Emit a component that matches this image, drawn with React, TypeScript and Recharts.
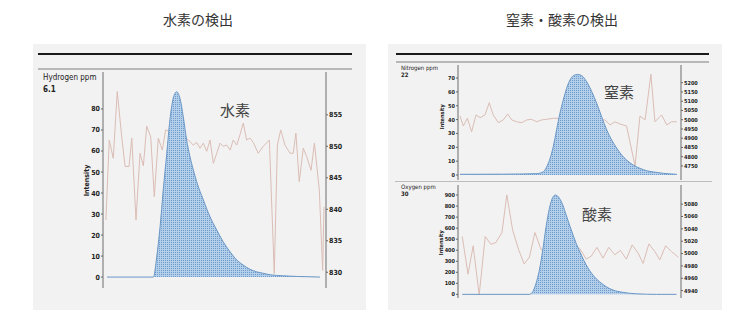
import React from "react"
import { Area, ComposedChart, Line, XAxis, YAxis } from "recharts"

const narrow = "'Liberation Sans Narrow', 'DejaVu Sans Condensed', Arial, sans-serif"
const cjk = "'Noto Sans CJK JP', 'Noto Sans CJK SC', sans-serif"

// time axis is arbitrary (0..100 across the plot)

// hydrogen peak (intensity)
const h2PeakT = [1.8, 22.6, 24.1, 25.6, 27.0, 28.6, 30.0, 31.5, 33.0, 34.5, 36.0, 37.5, 39.0, 40.5, 42.0, 45.0, 48.0, 51.0, 53.9, 57.0, 60.0, 62.9, 65.9, 68.9, 71.9, 74.9, 80.9, 86.9, 97.3]
const h2PeakV = [0, 0, 9.7, 24, 41.4, 58.9, 74.8, 85.1, 88.2, 85.1, 76.3, 65.2, 57.3, 51, 45.4, 36.7, 28.7, 22.4, 16.8, 12, 8.1, 5.7, 3.7, 2.5, 1.8, 1.1, 0.6, 0.3, 0]
// hydrogen background trace (right axis)
const h2TraceT = [1.3, 2.8, 4.6, 6.4, 8.4, 9.9, 11.7, 12.9, 14.8, 16.6, 18.1, 19.6, 21.4, 23.0, 24.8, 26.6, 28.1, 38.3, 40.5, 42.0, 43.5, 45.0, 46.5, 48.0, 49.5, 51.0, 52.5, 53.9, 55.5, 57.0, 58.4, 60.0, 61.4, 62.9, 64.4, 65.9, 67.4, 69.6, 71.9, 74.6, 76.8, 78.2, 79.7, 81.6, 83.9, 85.3, 86.5, 88.0, 89.8, 91.3, 93.3, 94.8, 97.0, 98.5, 99.1]
const h2TraceV = [838.3, 851.0, 848.1, 858.7, 851.5, 846.8, 846.8, 851.3, 838.3, 848.9, 846.9, 853.2, 851.5, 842.0, 851.3, 849.4, 852.6, 851.0, 850.2, 850.6, 849.7, 850.5, 849.2, 851.0, 847.3, 848.9, 850.5, 850.0, 850.2, 849.4, 851.0, 850.2, 851.8, 853.7, 851.0, 851.3, 850.6, 848.9, 850.0, 851.0, 829.8, 850.2, 852.6, 850.2, 848.9, 848.9, 852.1, 844.4, 849.7, 848.4, 846.2, 850.5, 843.1, 830.3, 840.4]

// nitrogen
const n2PeakT = [0.9, 20, 35.3, 38.3, 39.8, 41.3, 42.7, 44.2, 45.7, 47.2, 48.7, 50.2, 51.7, 53.7, 55.5, 57.7, 60.0, 62.2, 64.4, 66.7, 68.9, 71.2, 73.4, 75.6, 78.6, 81.6, 84.6, 87.6, 92.1, 98.1]
const n2PeakV = [0.5, 0.6, 1, 2.4, 6, 12, 20.4, 32.5, 44.5, 54.1, 62.5, 68.5, 71.7, 72.6, 71.7, 67.3, 60.1, 51.7, 42.1, 32.5, 25.3, 19.3, 14.4, 10.8, 7.2, 4.8, 3.1, 2.2, 1.2, 0.5]
const n2TraceT = [0.9, 2.4, 4.2, 6.1, 8.1, 9.9, 12.1, 14.0, 15.8, 18.1, 20.3, 22.3, 24.1, 26.3, 28.6, 30.8, 33.0, 35.3, 37.5, 39.8, 42.7, 65.9, 68.2, 70.4, 72.6, 75.6, 79.4, 81.6, 83.9, 86.5, 88.3, 91.3, 93.6, 95.8, 98.1]
const n2TraceV = [5020, 4966, 5008, 4935, 5026, 5011, 5026, 5092, 5026, 4984, 4999, 5031, 4999, 4989, 4984, 4999, 5002, 4989, 4999, 5002, 5008, 4999, 4972, 4989, 4977, 4966, 4750, 5020, 4999, 5246, 4989, 5026, 4972, 4989, 4989]

// oxygen
const o2PeakT = [1.9, 32.0, 33.5, 35.0, 36.5, 38.0, 39.5, 41.0, 42.5, 43.7, 45.5, 47.0, 48.5, 50.8, 53.0, 55.3, 57.5, 60.5, 63.5, 66.5, 69.5, 74.0, 80.0, 89.0, 98.0]
const o2PeakV = [0, 0, 24, 100, 220, 402, 613, 780, 879, 900, 870, 810, 719, 583, 462, 356, 266, 175, 114, 69, 39, 18, 5, 0, 0]
const o2TraceT = [1.9, 4.5, 6.8, 9.5, 12.2, 14.7, 17.0, 19.7, 21.9, 24.5, 27.2, 29.7, 32.0, 34.5, 37.3, 54.5, 57.5, 59.8, 62.3, 65.0, 67.6, 70.3, 72.8, 75.5, 78.1, 80.8, 83.0, 85.6, 88.3, 90.5, 93.1, 95.8, 98.8]
const o2TraceV = [5027.6, 4966.6, 5012.5, 4933, 5027.6, 5015, 5017.8, 5034, 5095, 5038, 5006, 4983, 4994, 5034, 5006, 5008.7, 4991, 4996, 5010, 4992.5, 5010, 4998, 5005, 4991, 5014, 5000.6, 4984, 5015.7, 5003, 4989.8, 5012.5, 5003, 4994]

const h2LeftTicks = [0, 10, 20, 30, 40, 50, 60, 70, 80]
const h2RightTicks = [830, 835, 840, 845, 850, 855]
const n2LeftTicks = [0, 10, 20, 30, 40, 50, 60, 70]
const n2RightTicks = [4750, 4800, 4850, 4900, 4950, 5000, 5050, 5100, 5150, 5200]
const o2LeftTicks = [0, 100, 200, 300, 400, 500, 600, 700, 800, 900]
const o2RightTicks = [4940, 4960, 4980, 5000, 5020, 5040, 5060, 5080]

const zip = (t: number[], v: number[]) => t.map((x, i) => ({ t: x, v: v[i] }))

interface TraceProps {
  id: string
  width: number
  height: number
  margin: { top: number; right: number; bottom: number; left: number }
  peak: { t: number; v: number }[]
  trace: { t: number; v: number }[]
  leftDomain: number[]
  leftTicks: number[]
  rightDomain: number[]
  rightTicks: number[]
  fontSize: number
}

const Trace = ({ id, width, height, margin, peak, trace, leftDomain, leftTicks, rightDomain, rightTicks, fontSize }: TraceProps) => {
  const tick = { fontSize, fill: "#222", fontFamily: narrow, fontWeight: 700 }
  return (
    <ComposedChart width={width} height={height} margin={margin}>
      <defs>
        <pattern id={id} width="2" height="2" patternUnits="userSpaceOnUse">
          <rect width="2" height="2" fill="#b3cfea" />
          <rect width="1" height="1" fill="#6e9bcb" />
        </pattern>
      </defs>
      <XAxis type="number" dataKey="t" domain={[0, 100]} allowDataOverflow hide />
      <YAxis
        yAxisId="l"
        type="number"
        width={30}
        domain={leftDomain}
        ticks={leftTicks}
        interval={0}
        allowDataOverflow
        axisLine={{ stroke: "#999", strokeWidth: 1.5 }}
        tickLine={{ stroke: "#666" }}
        tickSize={2}
        tickMargin={1}
        tick={tick}
      />
      <YAxis
        yAxisId="r"
        orientation="right"
        type="number"
        width={30}
        domain={rightDomain}
        ticks={rightTicks}
        interval={0}
        allowDataOverflow
        axisLine={{ stroke: "#999", strokeWidth: 1.5 }}
        tickLine={{ stroke: "#666" }}
        tickSize={2}
        tickMargin={1}
        tick={tick}
      />
      <Line
        yAxisId="r"
        data={trace}
        dataKey="v"
        type="linear"
        stroke="#dbbdb5"
        strokeWidth={1}
        dot={false}
        isAnimationActive={false}
        zIndex={50}
      />
      <Area
        yAxisId="l"
        data={peak}
        dataKey="v"
        type="monotone"
        stroke="#6a97c6"
        strokeWidth={1}
        fill={`url(#${id})`}
        fillOpacity={1}
        isAnimationActive={false}
      />
    </ComposedChart>
  )
}

const abs = (left: number, top: number, extra: React.CSSProperties = {}): React.CSSProperties => ({
  position: "absolute",
  left,
  top,
  ...extra,
})

const Rotated = ({ x, y, size, text }: { x: number; y: number; size: number; text: string }) => (
  <div
    style={abs(x - 25, y - size / 2, {
      width: 50,
      textAlign: "center",
      fontSize: size,
      lineHeight: `${size}px`,
      fontFamily: narrow,
      fontWeight: 700,
      color: "#222",
      transform: "rotate(-90deg)",
    })}
  >
    {text}
  </div>
)

export default function App() {
  return (
    <div style={abs(0, 0, { width: 750, height: 332, background: "#fff", overflow: "hidden" })}>
      <div style={abs(163, 10, { fontSize: 14, lineHeight: "18px", fontFamily: cjk, color: "#333" })}>水素の検出</div>
      <div style={abs(506, 10, { fontSize: 14, lineHeight: "18px", fontFamily: cjk, color: "#333" })}>窒素・酸素の検出</div>

      <div style={abs(33, 44, { width: 333, height: 266, background: "#f2f2f2" })} />
      <div style={abs(388, 44, { width: 334, height: 266, background: "#f2f2f2" })} />

      <div style={abs(38, 53, { width: 314, height: 2, background: "#1a1a1a" })} />
      <div style={abs(38, 68, { width: 314, height: 2, background: "#b8b8b8" })} />
      <div style={abs(396, 53, { width: 313, height: 2, background: "#1a1a1a" })} />
      <div style={abs(396, 61, { width: 313, height: 2, background: "#b8b8b8" })} />
      <div style={abs(395, 181, { width: 317, height: 1, background: "#bdbdbd" })} />

      <div style={abs(33, 44)}>
        <Trace
          id="dotsH"
          width={333}
          height={266}
          margin={{ top: 28, right: 10, bottom: 22, left: 40 }}
          peak={zip(h2PeakT, h2PeakV)}
          trace={zip(h2TraceT, h2TraceV)}
          leftDomain={[-5.2, 97.6]}
          leftTicks={h2LeftTicks}
          rightDomain={[827.5, 861.8]}
          rightTicks={h2RightTicks}
          fontSize={7}
        />
      </div>
      <div style={abs(388, 62)}>
        <Trace
          id="dotsN"
          width={334}
          height={120}
          margin={{ top: 3, right: 11, bottom: 2, left: 40 }}
          peak={zip(n2PeakT, n2PeakV)}
          trace={zip(n2TraceT, n2TraceV)}
          leftDomain={[-3.6, 79.4]}
          leftTicks={n2LeftTicks}
          rightDomain={[4674, 5296]}
          rightTicks={n2RightTicks}
          fontSize={5.5}
        />
      </div>
      <div style={abs(388, 182)}>
        <Trace
          id="dotsO"
          width={334}
          height={128}
          margin={{ top: 3, right: 11, bottom: 12, left: 40 }}
          peak={zip(o2PeakT, o2PeakV)}
          trace={zip(o2TraceT, o2TraceV)}
          leftDomain={[-33, 991]}
          leftTicks={o2LeftTicks}
          rightDomain={[4928, 5111]}
          rightTicks={o2RightTicks}
          fontSize={5.5}
        />
      </div>

      <div style={abs(43, 73, { fontSize: 8, lineHeight: "9px", fontFamily: narrow, color: "#222" })}>Hydrogen ppm</div>
      <div style={abs(43, 85, { fontSize: 8, lineHeight: "9px", fontFamily: narrow, fontWeight: 700, color: "#222" })}>6.1</div>
      <div style={abs(401, 64, { fontSize: 6, lineHeight: "7px", fontFamily: narrow, color: "#222" })}>Nitrogen ppm</div>
      <div style={abs(401, 71, { fontSize: 6, lineHeight: "7px", fontFamily: narrow, fontWeight: 700, color: "#222" })}>22</div>
      <div style={abs(401, 183, { fontSize: 6, lineHeight: "7px", fontFamily: narrow, color: "#222" })}>Oxygen ppm</div>
      <div style={abs(401, 190, { fontSize: 6, lineHeight: "7px", fontFamily: narrow, fontWeight: 700, color: "#222" })}>30</div>

      <Rotated x={87} y={180} size={7} text="Intensity" />
      <Rotated x={443} y={117} size={5.5} text="Intensity" />
      <Rotated x={442} y={243} size={5.5} text="Intensity" />

      <div style={abs(220, 100, { fontSize: 15, lineHeight: "20px", fontFamily: cjk, color: "#444" })}>水素</div>
      <div style={abs(604, 82, { fontSize: 15, lineHeight: "20px", fontFamily: cjk, color: "#444" })}>窒素</div>
      <div style={abs(582, 204, { fontSize: 15, lineHeight: "20px", fontFamily: cjk, color: "#444" })}>酸素</div>
    </div>
  )
}
